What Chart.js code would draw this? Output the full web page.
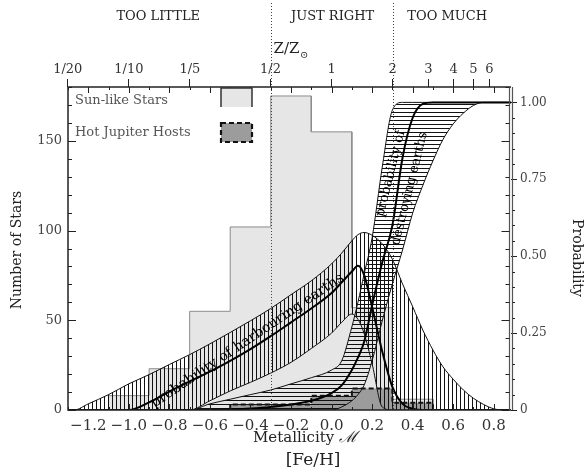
<!DOCTYPE html>
<html><head><meta charset="utf-8">
<script src="https://cdn.jsdelivr.net/npm/chart.js@4.4.1/dist/chart.umd.min.js"></script>
<style>html,body{margin:0;padding:0;background:#fff}#wrap{width:587px;height:473px;position:relative}</style>
</head><body><div id="wrap"><canvas id="c" width="587" height="473"></canvas></div>
<script>
// ---------------- data ----------------
const binEdges        = [-1.1, -0.9, -0.7, -0.5, -0.3, -0.1, 0.1, 0.3, 0.5];
const sunLikeCounts   = [8, 23, 55, 102, 175, 155, 57, 6];
const hotJupiterCounts= [0, 0, 0, 3, 3, 8, 12, 4];

const probX = [-1.3,-1.27,-1.2,-1.1,-1.0,-0.9,-0.8,-0.7,-0.6,-0.5,-0.4,-0.3,-0.2,-0.1,0.0,0.05,0.1,0.13,0.16,0.2,0.25,0.3,0.35,0.4,0.45,0.5,0.55,0.6,0.65,0.7,0.75,0.8,0.85,0.89];
const harbourUpper  = [0,0,0.02,0.05,0.085, 0.115,0.148,0.18,0.215,0.252, 0.29,0.33,0.375,0.42,0.475, 0.51,0.55,0.57,0.577,0.568, 0.54,0.49,0.41,0.336,0.26, 0.195,0.14,0.1,0.065,0.038, 0.018,0.004,0,0];
const harbourCentre = [0,0,0,0,0, 0.025,0.06,0.093,0.125,0.16, 0.198,0.24,0.285,0.33,0.38, 0.415,0.45,0.469,0.44,0.335, 0.19,0.075,0.02,0.004,0, 0,0,0,0,0, 0,0,0,0];
const harbourLower  = [0,0,0,0,0, 0,0,0,0.03,0.062, 0.09,0.12,0.155,0.2,0.25, 0.285,0.312,0.295,0.25,0.15, 0.01,0,0,0,0, 0,0,0,0,0, 0,0,0,0];
const destroyUpper  = [0,0,0,0,0, 0,0,0,0.02,0.035, 0.05,0.065,0.085,0.105,0.13, 0.16,0.27,0.35,0.44,0.56, 0.79,0.975,1,1,1, 1,1,1,1,1, 1,1,1,1];
const destroyCentre = [0,0,0,0,0, 0,0,0,0,0.002, 0.005,0.01,0.018,0.03,0.055, 0.08,0.13,0.17,0.22,0.34, 0.48,0.6,0.82,0.95,0.995, 1,1,1,1,1, 1,1,1,1];
const destroyLower  = [0,0,0,0,0, 0,0,0,0,0, 0,0,0,0,0, 0.01,0.03,0.05,0.08,0.16, 0.29,0.41,0.52,0.64,0.73, 0.81,0.88,0.93,0.965,0.99, 1,1,1,1];

const bottomTickValues = [-1.2,-1.0,-0.8,-0.6,-0.4,-0.2,0.0,0.2,0.4,0.6,0.8];
const topTickLabels    = ['1/20','1/10','1/5','1/2','1','2','3','4','5','6'];
const leftTickValues   = [0,50,100,150];
const rightTickValues  = [0,0.25,0.5,0.75,1.0];
const rightTickLabels  = ['0','0.25','0.50','0.75','1.00'];
const dividerZ         = [0.5, 2];
const zoneLabels       = ['TOO LITTLE','JUST RIGHT','TOO MUCH'];
const zoneLabelX       = [-0.855, 0.005, 0.57];

// ---------------- helpers ----------------
const FONT = "'DejaVu Serif', 'Liberation Serif', serif";
const frac = s => { const p = s.split('/'); return p.length === 2 ? (+p[0]) / (+p[1]) : +s; };
const topTickValues = topTickLabels.map(s => Math.log10(frac(s)));
const pts = (xs, ys) => xs.map((x, i) => ({x, y: ys[i]}));
function histPoints(edges, counts) {
  let first = counts.findIndex(c => c > 0);
  if (first < 0) first = 0;
  const out = [{x: edges[first], y: 0}];
  for (let i = first; i < counts.length; i++) {
    out.push({x: edges[i], y: counts[i]}); out.push({x: edges[i + 1], y: counts[i]});
  }
  out.push({x: edges[edges.length - 1], y: 0});
  return out;
}
const cv = document.getElementById('c');
const ctx0 = cv.getContext('2d');
function hatch(vertical) {
  const p = document.createElement('canvas'); p.width = 4; p.height = 4;
  const g = p.getContext('2d'); g.fillStyle = '#111';
  if (vertical) g.fillRect(0, 0, 1, 4); else g.fillRect(0, 0, 4, 1);
  return ctx0.createPattern(p, 'repeat');
}
const fmtM = v => (v < -1e-9 ? '\u2212' : '') + Math.abs(v).toFixed(1);

const line = (data, extra) => Object.assign({
  type: 'line', data, yAxisID: 'y2', xAxisID: 'x', pointRadius: 0, borderColor: '#111',
  borderWidth: 1, fill: false, cubicInterpolationMode: 'monotone'
}, extra);

// ---------------- decorations plugin ----------------
const decor = {
  id: 'decor',
  afterDatasetsDraw(chart) {
    const {ctx, chartArea: a, scales} = chart;
    const x = scales.x, y = scales.y, y2 = scales.y2;
    ctx.save();
    // dotted dividers
    ctx.strokeStyle = '#444'; ctx.lineWidth = 1; ctx.setLineDash([1, 2]);
    dividerZ.forEach(z => {
      const px = Math.round(x.getPixelForValue(Math.log10(z))) + 0.5;
      ctx.beginPath(); ctx.moveTo(px, 3); ctx.lineTo(px, a.bottom); ctx.stroke();
    });
    ctx.setLineDash([]);
    // frame
    ctx.strokeStyle = '#222'; ctx.lineWidth = 1.5;
    ctx.beginPath();
    ctx.moveTo(a.right, a.top); ctx.lineTo(a.left, a.top); ctx.lineTo(a.left, a.bottom); ctx.lineTo(a.right, a.bottom);
    ctx.stroke();
    ctx.strokeStyle = '#555'; ctx.lineWidth = 1.2;
    ctx.beginPath(); ctx.moveTo(a.right - 1.5, a.top); ctx.lineTo(a.right - 1.5, a.bottom);
    ctx.moveTo(a.right + 1.5, a.top); ctx.lineTo(a.right + 1.5, a.bottom); ctx.stroke();
    // inward ticks
    ctx.strokeStyle = '#222'; ctx.lineWidth = 1;
    ctx.beginPath();
    for (let s = 0; s <= 180; s += 10) {
      const py = Math.round(y.getPixelForValue(s)) + 0.5;
      const L = s % 50 === 0 ? 8 : 4;
      ctx.moveTo(a.left, py); ctx.lineTo(a.left + L, py);
      ctx.moveTo(a.right - 1.5, py); ctx.lineTo(a.right - 1.5 - L, py);
    }
    for (let k = -13; k <= 8; k++) {
      const v = k / 10;
      const px = Math.round(x.getPixelForValue(v)) + 0.5;
      const L = (k % 2 === 0) ? 6 : 3;
      ctx.moveTo(px, a.bottom); ctx.lineTo(px, a.bottom - L);
      ctx.moveTo(px, a.top); ctx.lineTo(px, a.top + L);
    }
    for (let k = 0; k <= 20; k++) {
      const py = Math.round(y2.getPixelForValue(k * 0.05)) + 0.5;
      if (k % 5 !== 0) { ctx.moveTo(a.right + 1.5, py); ctx.lineTo(a.right + 4, py); }
    }
    ctx.stroke();
    ctx.restore();
  },
  afterDraw(chart) {
    const {ctx, chartArea: a, scales} = chart;
    const x = scales.x, y2 = scales.y2;
    ctx.save();
    ctx.fillStyle = '#222';
    ctx.textBaseline = 'middle';
    // zone labels
    ctx.font = '13px ' + FONT; ctx.textAlign = 'center';
    zoneLabels.forEach((t, i) => ctx.fillText(t, x.getPixelForValue(zoneLabelX[i]), 17));
    // Z/Zsun
    ctx.textAlign = 'left'; ctx.font = '15px ' + FONT;
    const zx = x.getPixelForValue(Math.log10(0.5)) + 3;
    ctx.fillText('Z/Z', zx, 49);
    const zw = ctx.measureText('Z/Z').width;
    ctx.font = '10px ' + FONT; ctx.fillText('\u2299', zx + zw + 0.5, 55);
    // legend
    ctx.font = '13px ' + FONT; ctx.fillStyle = '#555';
    ctx.fillText('Sun-like Stars', 75, 101);
    ctx.fillText('Hot Jupiter Hosts', 75, 133);
    ctx.fillStyle = '#e6e6e6'; ctx.fillRect(221, 88, 31, 19);
    ctx.strokeStyle = '#333'; ctx.lineWidth = 1.5;
    ctx.beginPath(); ctx.moveTo(221, 107); ctx.lineTo(221, 88); ctx.lineTo(252, 88); ctx.lineTo(252, 107); ctx.stroke();
    ctx.fillStyle = '#9c9c9c'; ctx.fillRect(221, 123, 31, 19);
    ctx.strokeStyle = '#111'; ctx.lineWidth = 2.2; ctx.setLineDash([5, 3]);
    ctx.strokeRect(221, 123, 31, 19); ctx.setLineDash([]);
    // axis titles
    ctx.fillStyle = '#222'; ctx.textAlign = 'center';
    ctx.font = '14px ' + FONT;
    ctx.save(); ctx.translate(17, 250); ctx.rotate(-Math.PI / 2); ctx.fillText('Number of Stars', 0, 0); ctx.restore();
    ctx.save(); ctx.translate(577, 258); ctx.rotate(Math.PI / 2); ctx.fillText('Probability', 0, 0); ctx.restore();
    ctx.font = '15px ' + FONT;
    const mt = 'Metallicity ', mw = ctx.measureText(mt).width;
    ctx.font = 'italic 16px ' + FONT; const sw = ctx.measureText('\u2133').width;
    ctx.textAlign = 'left'; ctx.font = '15px ' + FONT;
    const mx = 305 - (mw + sw) / 2;
    ctx.fillText(mt, mx, 438);
    ctx.font = 'italic 16px ' + FONT; ctx.fillText('\u2133', mx + mw, 438);
    ctx.textAlign = 'center'; ctx.font = '17px ' + FONT;
    ctx.fillText('[Fe/H]', 313, 461);
    // band labels
    ctx.fillStyle = '#000';
    const rot = (t, vx, vy, deg, size) => {
      ctx.save(); ctx.translate(x.getPixelForValue(vx), y2.getPixelForValue(vy));
      ctx.rotate(deg * Math.PI / 180); ctx.font = size + 'px ' + FONT;
      ctx.fillText(t, 0, 0); ctx.restore();
    };
    rot('probability of harbouring earths', -0.415, 0.225, -34, 14);
    rot('probability of', 0.291, 0.769, -76, 13);
    rot('destroying earths', 0.385, 0.72, -76, 13);
    ctx.restore();
  }
};

// ---------------- chart ----------------
new Chart(cv, {
  type: 'line',
  data: {
    datasets: [
      {label: 'Sun-like Stars', data: histPoints(binEdges, sunLikeCounts), yAxisID: 'y', xAxisID: 'x', fill: 'origin',
       backgroundColor: '#e6e6e6', borderColor: '#8c8c8c', borderWidth: 1, pointRadius: 0, tension: 0, order: 20},
      {label: 'Hot Jupiter Hosts', data: histPoints(binEdges, hotJupiterCounts), yAxisID: 'y', xAxisID: 'x', fill: 'origin',
       backgroundColor: '#9c9c9c', borderColor: '#111', borderWidth: 2, borderDash: [5, 3], pointRadius: 0, tension: 0, order: 19},
      line(pts(probX, harbourUpper), {fill: '+1', backgroundColor: hatch(true), order: 10}),
      line(pts(probX, harbourLower), {order: 9}),
      line(pts(probX, destroyUpper), {fill: '+1', backgroundColor: hatch(false), order: 8}),
      line(pts(probX, destroyLower), {order: 7}),
      line(pts(probX, harbourCentre), {borderWidth: 2, borderColor: '#000', order: 2}),
      line(pts(probX, destroyCentre), {borderWidth: 2, borderColor: '#000', order: 1})
    ]
  },
  options: {
    responsive: false, animation: false, devicePixelRatio: 1,
    layout: {padding: 0},
    plugins: {legend: {display: false}, tooltip: {enabled: false}},
    scales: {
      x: {type: 'linear', position: 'bottom', min: -1.3, max: 0.885,
          afterBuildTicks: s => { s.ticks = bottomTickValues.map(v => ({value: v})); },
          afterFit: s => { s.height = 63; },
          ticks: {callback: v => fmtM(v), autoSkip: false, maxRotation: 0, padding: 7, color: '#333', font: {family: FONT, size: 15}},
          grid: {display: false, drawTicks: false}, border: {display: false}},
      x2: {type: 'linear', position: 'top', min: -1.3, max: 0.885,
          afterBuildTicks: s => { s.ticks = topTickValues.map(v => ({value: v})); },
          afterFit: s => { s.height = 87; },
          ticks: {callback: (v, i) => topTickLabels[i], autoSkip: false, maxRotation: 0, padding: 2, color: '#333', font: {family: FONT, size: 13}},
          grid: {drawOnChartArea: false, drawTicks: true, tickLength: 8, color: '#222'}, border: {display: false}},
      y: {type: 'linear', position: 'left', min: 0, max: 180,
          afterBuildTicks: s => { s.ticks = leftTickValues.map(v => ({value: v})); },
          afterFit: s => { s.width = 68; },
          ticks: {autoSkip: false, padding: 6, color: '#444', font: {family: FONT, size: 13}},
          grid: {display: false, drawTicks: false}, border: {display: false}},
      y2: {type: 'linear', position: 'right', min: 0, max: 1.05,
          afterBuildTicks: s => { s.ticks = rightTickValues.map(v => ({value: v})); },
          afterFit: s => { s.width = 76; },
          ticks: {callback: (v, i) => rightTickLabels[i], autoSkip: false, padding: 3, color: '#444', font: {family: FONT, size: 12}},
          grid: {drawOnChartArea: false, drawTicks: true, tickLength: 6, color: '#222'}, border: {display: false}}
    }
  },
  plugins: [decor]
});
</script>
</body></html>
